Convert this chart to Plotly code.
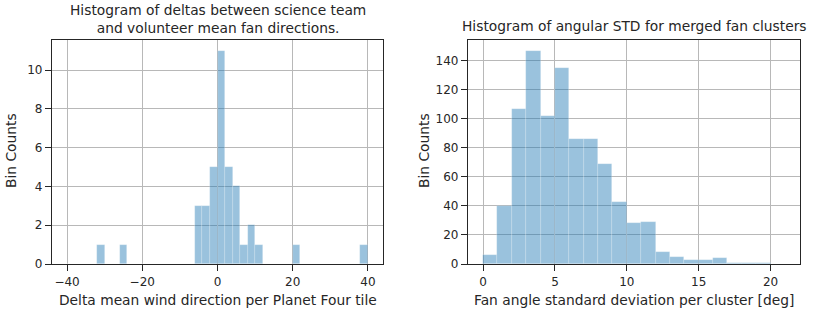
import plotly.graph_objects as go

# ---- data ----
delta_bin_edges = list(range(-40, 41, 2))
delta_counts = [0, 0, 0, 0, 1, 0, 0, 1, 0, 0, 0, 0, 0, 0, 0, 0, 0, 3, 3, 5,
                11, 5, 4, 1, 2, 1, 0, 0, 0, 0, 1, 0, 0, 0, 0, 0, 0, 0, 0, 1]

std_bin_edges = list(range(0, 21, 1))
std_counts = [6, 40, 107, 147, 102, 135, 86, 86, 69, 43,
              28, 29, 8, 5, 3, 3, 4, 1, 1, 1]

left_title = "Histogram of deltas between science team<br>and volunteer mean fan directions."
right_title = "Histogram of angular STD for merged fan clusters"
left_xlabel = "Delta mean wind direction per Planet Four tile"
right_xlabel = "Fan angle standard deviation per cluster [deg]"
ylabel = "Bin Counts"

W, H = 830, 312
FONT = "DejaVu Sans"
BAR = "rgba(31,119,180,0.45)"
EDGE = "rgba(255,255,255,0.35)"
GRID = "#b8b8b8"
TXT = "#262626"


def centers(edges):
    return [(a + b) / 2 for a, b in zip(edges[:-1], edges[1:])]


def widths(edges):
    return [b - a for a, b in zip(edges[:-1], edges[1:])]


fig = go.Figure()
fig.add_trace(go.Bar(x=centers(delta_bin_edges), y=delta_counts, width=widths(delta_bin_edges),
                     marker=dict(color=BAR, line=dict(color=EDGE, width=0.6)),
                     xaxis="x", yaxis="y", showlegend=False, hoverinfo="skip"))
fig.add_trace(go.Bar(x=centers(std_bin_edges), y=std_counts, width=widths(std_bin_edges),
                     marker=dict(color=BAR, line=dict(color=EDGE, width=0.6)),
                     xaxis="x2", yaxis="y2", showlegend=False, hoverinfo="skip"))

def px_x(p):
    return p / W

def px_y(p):
    return 1 - p / H

ax_common = dict(showgrid=True, gridcolor=GRID, gridwidth=1.4, zeroline=False,
                 showline=True, linecolor="#262626", linewidth=1.3, mirror=True,
                 ticks="outside", ticklen=6, tickwidth=1.2, tickcolor="#262626",
                 tickfont=dict(family=FONT, size=12, color=TXT))

fig.update_layout(
    width=W, height=H, margin=dict(l=0, r=0, t=0, b=0, autoexpand=False),
    paper_bgcolor="white", plot_bgcolor="white", bargap=0,
    font=dict(family=FONT, color=TXT),
    xaxis=dict(domain=[px_x(52), px_x(383)], range=[-44, 44], anchor="y",
               tickvals=[-40, -20, 0, 20, 40], ticktext=["−40", "−20", "0", "20", "40"], **ax_common),
    yaxis=dict(domain=[px_y(264), px_y(40)], range=[0, 11.55], anchor="x",
               tickvals=[0, 2, 4, 6, 8, 10], **ax_common),
    xaxis2=dict(domain=[px_x(468), px_x(800)], range=[-1.05, 22.05], anchor="y2",
                tickvals=[0, 5, 10, 15, 20], **ax_common),
    yaxis2=dict(domain=[px_y(264), px_y(40)], range=[0, 154.35], anchor="x2",
                tickvals=[0, 20, 40, 60, 80, 100, 120, 140], **ax_common),
)

ann = [
    dict(text=left_title, x=px_x(217.5), y=px_y(19), font=dict(size=13.8)),
    dict(text=right_title, x=px_x(634), y=px_y(26), font=dict(size=13.8)),
    dict(text=left_xlabel, x=px_x(217.5), y=px_y(300), font=dict(size=13.8)),
    dict(text=right_xlabel, x=px_x(634), y=px_y(300), font=dict(size=13.8)),
    dict(text=ylabel, x=px_x(11), y=px_y(151), textangle=-90, font=dict(size=13.8)),
    dict(text=ylabel, x=px_x(424), y=px_y(151), textangle=-90, font=dict(size=13.8)),
]
for a in ann:
    fig.add_annotation(xref="paper", yref="paper", showarrow=False,
                       xanchor="center", yanchor="middle", **a)

fig.write_html("out.html", config={"displayModeBar": False},
               post_script="document.body.style.margin='0';document.body.style.overflow='hidden';")
